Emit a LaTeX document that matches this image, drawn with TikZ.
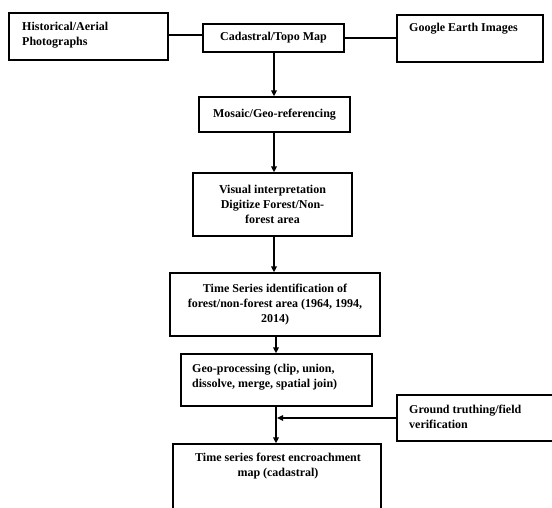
\documentclass[tikz,border=0pt]{standalone}
\usepackage{fontspec}
\setmainfont{Liberation Serif}
\usetikzlibrary{arrows.meta}
\begin{document}
\begin{tikzpicture}[x=1pt,y=-1pt,
  box/.style={draw, line width=1.3pt, inner sep=0pt},
  txt/.style={font=\fontsize{12}{15}\selectfont\bfseries, inner sep=0pt},
  conn/.style={line width=1.4pt},
  arr/.style={line width=1.6pt, -{Triangle[length=6pt,width=5.5pt]}}]
\useasboundingbox (0,0) rectangle (552,507);
\clip (0,0) rectangle (552,507);
% boxes
\node[box, minimum width=159pt, minimum height=47pt] (hist) at (88.5,36.5) {};
\node[txt, anchor=west, align=left] (histt) at (22,35) {Historical/Aerial\\Photographs};
\node[box, minimum width=141pt, minimum height=28pt, txt] (cad) at (273.5,38) {Cadastral/Topo Map};
\node[box, minimum width=146pt, minimum height=47pt] (goog) at (470,38.5) {};
\node[txt, anchor=west] (googt) at (409,29) {Google Earth Images};
\node[box, minimum width=151pt, minimum height=35pt, txt] (mos) at (274.5,114.5) {Mosaic/Geo-referencing};
\node[box, minimum width=159pt, minimum height=63pt, txt, align=center] (vis) at (272.5,204.5) {Visual interpretation\\Digitize Forest/Non-\\forest area};
\node[box, minimum width=210pt, minimum height=63pt, txt, align=center] (ts) at (275,304.5) {Time Series identification of\\forest/non-forest area (1964, 1994,\\2014)};
\node[box, minimum width=191pt, minimum height=52pt] (geo) at (276.5,380) {};
\node[txt, anchor=west, align=left] (geot) at (192,377) {Geo-processing (clip, union,\\dissolve, merge, spatial join)};
\node[box, minimum width=163pt, minimum height=46pt] (ground) at (478.5,418) {};
\node[txt, anchor=west, align=left] (groundt) at (409,416.5) {Ground truthing/field\\verification};
\node[box, minimum width=208pt, minimum height=90pt] (fin) at (277,489) {};
\node[txt, align=center] (fint) at (278,466) {Time series forest encroachment\\map (cadastral)};
% connectors
\draw[conn] (hist.east |- 0,35) -- (cad.west |- 0,35);
\draw[conn] (cad.east |- 0,38) -- (goog.west |- 0,38);
\coordinate (c1) at (274,0);
\coordinate (c4) at (276,0);
\coordinate (c5) at (276,0);
\draw[arr] (c1 |- cad.south) -- (c1 |- mos.north);
\draw[arr] (c1 |- mos.south) -- (c1 |- vis.north);
\draw[arr] (c1 |- vis.south) -- (c1 |- ts.north);
\draw[arr] (c4 |- ts.south) -- (c4 |- geo.north);
\draw[arr] (c5 |- geo.south) -- (c5 |- fin.north);
\coordinate (j) at (277,418);
\draw[arr] (ground.west |- j) -- (j);
\end{tikzpicture}
\end{document}
